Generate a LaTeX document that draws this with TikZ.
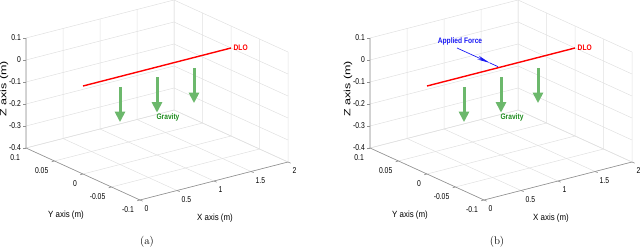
\documentclass[tikz,border=0pt]{standalone}
\usepackage{fontspec}
\setsansfont{Liberation Sans}
\usepackage{graphicx}
\usetikzlibrary{arrows.meta}
\definecolor{gridc}{RGB}{224,224,224}
\definecolor{axc}{RGB}{145,145,145}
\definecolor{gravc}{RGB}{108,184,108}
\definecolor{gravtext}{RGB}{30,140,30}
\definecolor{forceblue}{RGB}{25,25,245}
\newcommand{\cnd}[1]{\scalebox{0.8}[1]{#1}}
\newcommand{\cndb}[1]{\scalebox{0.83}[1]{#1}}
\begin{document}
\begin{tikzpicture}[x=1pt,y=1pt,
  gridline/.style={draw=gridc,line width=0.5pt},
  axisline/.style={draw=axc,line width=0.6pt},
  tlabel/.style={font=\sffamily\fontsize{8.5}{9}\selectfont,inner sep=0pt,text=black},
  alabel/.style={font=\sffamily\fontsize{9}{10}\selectfont,inner sep=0pt,text=black},
  zlabel/.style={font=\sffamily\fontsize{12.5}{13}\selectfont,inner sep=0pt,rotate=90,text=black},
  dlostyle/.style={draw=red,line width=1.4pt},
  dlolabel/.style={font=\sffamily\bfseries\fontsize{8}{9}\selectfont,text=red,inner sep=0pt},
  gravarrow/.style={draw=gravc,line width=3pt,-{Triangle[length=10.5pt,width=10pt]}},
  gravlabel/.style={font=\sffamily\bfseries\fontsize{8}{9}\selectfont,text=gravtext,inner sep=0pt},
  forcelabel/.style={font=\sffamily\bfseries\fontsize{8}{9}\selectfont,text=forceblue,inner sep=0pt},
  forceline/.style={draw=forceblue,line width=0.7pt},
  captext/.style={font=\fontsize{11}{13}\selectfont,inner sep=0pt}]
\useasboundingbox (0,0) rectangle (640,247);
\foreach \pn/\dx/\xl in {a/0/215,b/344/207}{
 \begin{scope}[xshift=\dx pt]
  \begin{scope}[shift={(26,99)},x={(148pt,38pt)},y={(114pt,-52pt)},z={(0pt,110pt)}]
   \foreach \ua in {0,0.25,0.5,0.75,1}
     \draw[gridline] (\ua,0,0)--(\ua,0,1) (\ua,0,0)--(\ua,1,0);
   \foreach \va in {0,0.25,0.5,0.75,1}
     \draw[gridline] (1,\va,0)--(1,\va,1) (0,\va,0)--(1,\va,0);
   \foreach \wa in {0,0.2,0.4,0.6,0.8,1}
     \draw[gridline] (0,0,\wa)--(1,0,\wa)--(1,1,\wa);
   \coordinate (\pn-ztop) at (0,0,1);
   \coordinate (\pn-org) at (0,0,0);
   \coordinate (\pn-yend) at (0,1,0);
   \coordinate (\pn-xend) at (1,1,0);
   \draw[axisline] (\pn-ztop)--(\pn-org)--(\pn-yend)--(\pn-xend);
   \foreach \wa/\lab in {0/-0.4,0.2/-0.3,0.4/-0.2,0.6/-0.1,0.8/0,1/0.1}{
     \draw[axisline] (0,0,\wa) -- ++(-3pt,0pt);
     \node[tlabel,anchor=east,xshift=-5pt] at (0,0,\wa) {\cnd{\lab}};
   }
   \foreach \va/\lab in {0/0.1,0.25/0.05,0.5/0,0.75/-0.05,1/-0.1}{
     \draw[axisline] (0,\va,0) -- ++(-2.9pt,-0.75pt);
     \node[tlabel,anchor=east,xshift=-6pt,yshift=-10pt] at (0,\va,0) {\cnd{\lab}};
   }
   \foreach \ua/\lab in {0/0,0.25/0.5,0.5/1,0.75/1.5,1/2}{
     \draw[axisline] (\ua,1,0) -- ++(2.7pt,-1.2pt);
     \node[tlabel,anchor=west,xshift=4.5pt,yshift=-9pt] at (\ua,1,0) {\cnd{\lab}};
   }
   \coordinate (\pn-lstart) at (0,0.5,0.8);
   \coordinate (\pn-lend) at (1,0.5,0.8);
   \draw[dlostyle] (\pn-lstart) -- (\pn-lend);
   \node[dlolabel,anchor=west,xshift=2.5pt] (\pn-dlo) at (\pn-lend) {\cndb{DLO}};
   \foreach \ua/\kk in {0.25/1,0.5/2,0.75/3}{
     \coordinate (\pn-gs\kk) at (\ua,0.5,0.705);
     \coordinate (\pn-ge\kk) at (\ua,0.5,0.385);
     \draw[gravarrow] (\pn-gs\kk) -- (\pn-ge\kk);
   }
   \coordinate (\pn-fe) at (0.48,0.5,0.81);
  \end{scope}
  \node[gravlabel] (\pn-grav) at (168,130) {\cndb{Gravity}};
  \node[alabel] (\pn-ylab) at (66,32) {\scalebox{0.88}[1]{Y axis (m)}};
  \node[alabel] (\pn-xlab) at (\xl,29) {\scalebox{0.88}[1]{X axis (m)}};
  \node[zlabel] (\pn-zlab) at (4,158) {\scalebox{1}[0.72]{Z axis (m)}};
 \end{scope}
}
\node[forcelabel] (force) at (460,206) {\cndb{Applied Force}};
\coordinate (fs) at (457,199);
\path (fs) -- (b-fe) coordinate[pos=0.8] (fh);
\draw[forceline,-{Stealth[length=13pt,width=4pt]}] (fs) -- (fh);
\draw[forceline] (fh) -- (b-fe);
\node[captext] (capa) at (147,5) {(a)};
\node[captext] (capb) at (497,5) {(b)};
\end{tikzpicture}
\end{document}
